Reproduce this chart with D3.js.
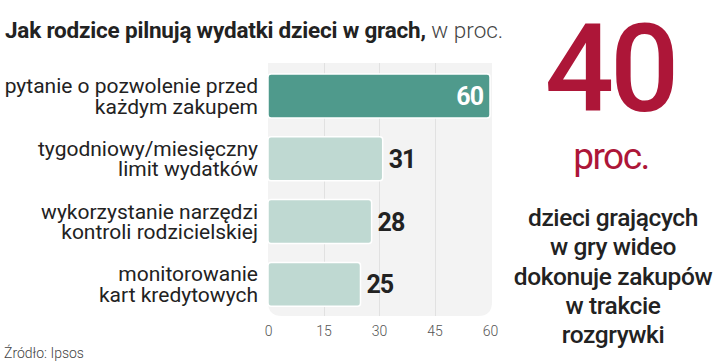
<!DOCTYPE html>
<html>
<head>
<meta charset="utf-8">
<script src="https://cdn.jsdelivr.net/npm/d3@7"></script>
<style>
  body { margin: 0; background: #fff; }
  svg { display: block; font-family: Roboto, "Noto Sans", sans-serif; }
</style>
</head>
<body>
<div id="chart"></div>
<script>
// data
const categories = [
    ["pytanie o pozwolenie przed", "każdym zakupem"],
    ["tygodniowy/miesięczny", "limit wydatków"],
    ["wykorzystanie narzędzi", "kontroli rodzicielskiej"],
    ["monitorowanie", "kart kredytowych"]
];
const values = [60, 31, 28, 25];
const xTicks = [0, 15, 30, 45, 60];
const sideLines = ["dzieci grających", "w gry wideo", "dokonuje zakupów", "w trakcie", "rozgrywki"];

const width = 720, height = 363;
const svg = d3.select("#chart").append("svg")
    .attr("width", width)
    .attr("height", height);

// title
const title = svg.append("text")
    .attr("x", 5)
    .attr("y", 38)
    .attr("font-size", 22.5)
    .attr("fill", "#222");
title.append("tspan").attr("font-weight", "bold").attr("letter-spacing", -0.2)
    .text("Jak rodzice pilnują wydatki dzieci w grach,");
title.append("tspan").attr("font-weight", 300).attr("fill", "#444").text(" w proc.");

// scales
const x = d3.scaleLinear().domain([0, 60]).range([268, 490]);
const y = d3.scaleBand().domain(d3.range(values.length)).range([64, 316.4]).paddingInner(0.3).paddingOuter(0.16);

// plot background
svg.append("path")
    .attr("d", () => {
        const x0 = x(0), x1 = x(60) + 2, y0 = 63, y1 = 316, r = 14;
        return `M${x0},${y0}H${x1}V${y1 - r}Q${x1},${y1} ${x1 - r},${y1}H${x0 + r}Q${x0},${y1} ${x0},${y1 - r}Z`;
    })
    .attr("fill", "#f3f3f3");

// gridlines
svg.append("g").selectAll("line")
    .data(xTicks.slice(1, -1))
    .join("line")
    .attr("x1", d => Math.round(x(d)) + 0.5)
    .attr("x2", d => Math.round(x(d)) + 0.5)
    .attr("y1", 63)
    .attr("y2", 316)
    .attr("stroke", "#e1e1e1");

// bars
svg.append("g").selectAll("rect")
    .data(values)
    .join("rect")
    .attr("x", x(0))
    .attr("y", (d, i) => y(i))
    .attr("width", d => x(d) - x(0))
    .attr("height", y.bandwidth())
    .attr("rx", 3)
    .attr("fill", (d, i) => i === 0 ? "#4f9a8c" : "#bfd9d2")
    .attr("stroke", "#fff")
    .attr("stroke-width", 1.5);

// value labels
svg.append("g").selectAll("text")
    .data(values)
    .join("text")
    .attr("x", (d, i) => i === 0 ? x(d) - 7 : x(d) + 6)
    .attr("y", (d, i) => y(i) + y.bandwidth() / 2 + 9)
    .attr("text-anchor", (d, i) => i === 0 ? "end" : "start")
    .attr("font-size", 25)
    .attr("font-weight", "bold")
    .attr("letter-spacing", -1)
    .attr("fill", (d, i) => i === 0 ? "#fff" : "#222")
    .text(d => d);

// category labels
const cat = svg.append("g").selectAll("text")
    .data(categories)
    .join("text")
    .attr("text-anchor", "end")
    .attr("font-size", 21)
    .attr("fill", "#222");
cat.selectAll("tspan")
    .data((d, i) => d.map(t => ({ t, i })))
    .join("tspan")
    .attr("x", 258)
    .attr("y", (d, j) => y(d.i) + y.bandwidth() / 2 - 3 + j * 20.5)
    .text(d => d.t);

// x axis
const axis = svg.append("g")
    .attr("transform", "translate(0,320)")
    .call(d3.axisBottom(x).tickValues(xTicks).tickSize(0).tickPadding(6));
axis.select(".domain").remove();
axis.selectAll("text")
    .attr("font-family", "Roboto, sans-serif")
    .attr("font-size", 14)
    .attr("font-weight", 300)
    .attr("fill", "#555");

// source
svg.append("text")
    .attr("x", 4)
    .attr("y", 358)
    .attr("font-size", 14)
    .attr("font-weight", 300)
    .attr("fill", "#444")
    .text("Źródło: Ipsos");

// side note
svg.append("text")
    .attr("x", 610)
    .attr("y", 111)
    .attr("text-anchor", "middle")
    .attr("font-size", 122)
    .attr("font-weight", 500)
    .attr("letter-spacing", -4)
    .attr("fill", "#ad1638")
    .text("40");
svg.append("text")
    .attr("x", 611)
    .attr("y", 169)
    .attr("text-anchor", "middle")
    .attr("font-size", 37)
    .attr("letter-spacing", -1.5)
    .attr("fill", "#ad1638")
    .text("proc.");
svg.append("g").selectAll("text")
    .data(sideLines)
    .join("text")
    .attr("x", 613)
    .attr("y", (d, i) => 226 + i * 29.3)
    .attr("text-anchor", "middle")
    .attr("font-size", 24.5)
    .attr("font-weight", 500)
    .attr("letter-spacing", -0.4)
    .attr("fill", "#222")
    .text(d => d);
</script>
</body>
</html>
